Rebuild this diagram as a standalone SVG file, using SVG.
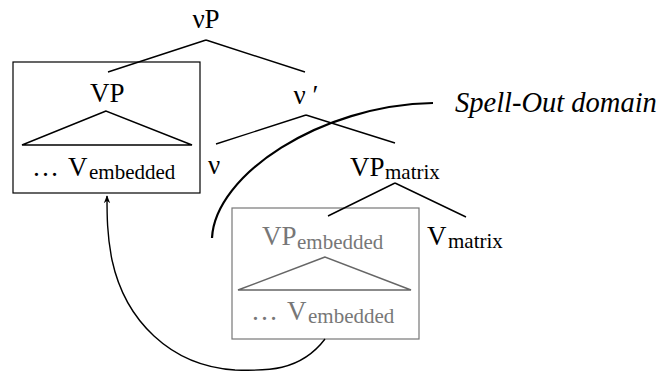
<svg xmlns="http://www.w3.org/2000/svg" width="658" height="371" viewBox="0 0 658 371">
<defs>
<marker id="ah" viewBox="0 0 10 10" refX="9" refY="5" markerWidth="8" markerHeight="8" orient="auto-start-reverse" markerUnits="userSpaceOnUse">
<path d="M0,1 L10,5 L0,9 L3,5 Z" fill="#000"/>
</marker>
</defs>
<rect width="658" height="371" fill="#fff"/>
<g id="vP"><text font-family="Liberation Serif" font-size="27" x="206" y="28" text-anchor="middle">νP</text></g>
<g id="VPbox">
<rect x="13" y="62" width="187" height="131" fill="none" stroke="#000" stroke-width="1.2"/>
<text font-family="Liberation Serif" font-size="27" x="90" y="102">VP</text>
<path d="M106,111 L22,145 L192,145 Z" fill="none" stroke="#000" stroke-width="1.4"/>
<text font-family="Liberation Serif" font-size="27" x="32" y="176">…</text>
<text font-family="Liberation Serif" font-size="27" x="68" y="176">V</text>
<text font-family="Liberation Serif" font-size="21" x="89" y="179">embedded</text>
</g>
<g id="vbar"><text font-family="Liberation Serif" font-size="27" x="306" y="104" text-anchor="middle">ν ′</text></g>
<g id="v"><text font-family="Liberation Serif" font-size="27" x="214" y="174" text-anchor="middle">ν</text></g>
<g id="VPmatrix">
<text font-family="Liberation Serif" font-size="27" x="350" y="176">VP</text>
<text font-family="Liberation Serif" font-size="21" x="385" y="179">matrix</text>
</g>
<g id="Vmatrix">
<text font-family="Liberation Serif" font-size="27" x="427" y="245">V</text>
<text font-family="Liberation Serif" font-size="21" x="448" y="248">matrix</text>
</g>
<g id="VPembbox">
<rect x="232" y="208" width="187" height="131" fill="none" stroke="#777" stroke-width="1.2"/>
<text font-family="Liberation Serif" font-size="27" fill="#777" x="262" y="245">VP</text>
<text font-family="Liberation Serif" font-size="21" fill="#777" x="297" y="249">embedded</text>
<path d="M325,257 L238,290 L411,290 Z" fill="none" stroke="#666" stroke-width="1.4"/>
<text font-family="Liberation Serif" font-size="27" fill="#777" x="251" y="320">…</text>
<text font-family="Liberation Serif" font-size="27" fill="#777" x="287" y="320">V</text>
<text font-family="Liberation Serif" font-size="21" fill="#777" x="308" y="323">embedded</text>
</g>
<g id="spellout">
<text font-family="Liberation Serif" x="455" y="112" font-size="28.5" font-style="italic">Spell-Out domain</text>
</g>
<g id="connectors" fill="none" stroke="#000" stroke-width="1.4">
<path d="M206,40 L108,72 M206,40 L305,72"/>
<path d="M306,115 L216,144 M306,115 L395,143"/>
<path d="M395,183 L328,216 M395,183 L466,217"/>
<path d="M433,103 C320,105 215,175 212,238" stroke-width="2.2"/>
<path d="M325,339 C300,372 265,371 235,370 C170,366 125,320 112,260 C107,235 107,215 107,196" marker-end="url(#ah)"/>
</g>
</svg>
